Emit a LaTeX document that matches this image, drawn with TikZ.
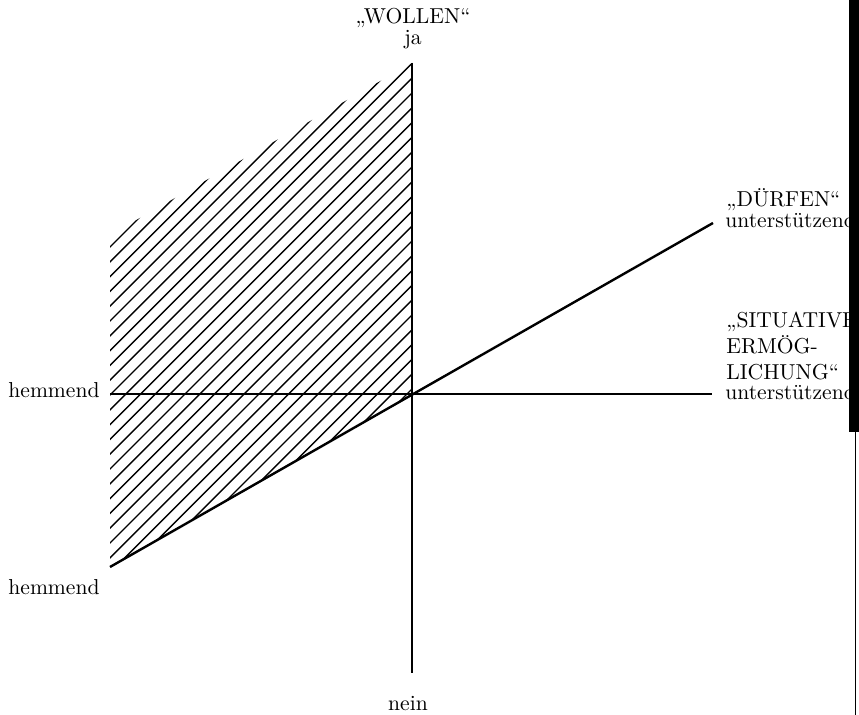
\documentclass[tikz,border=0pt]{standalone}
\usetikzlibrary{positioning}
\tikzset{
  axis/.style={line width=1.2pt}, % the three axes
  hatchline/.style={line width=0.7pt}, % hatching of the ja/hemmend plane
  axlabel/.style={font=\fontsize{10.8}{13}\selectfont, inner sep=0pt},
}
\begin{document}
\begin{tikzpicture}[x=0.5pt, y=-0.5pt]
  \useasboundingbox (0,0) rectangle (859,715);

  % end points of the axes
  \coordinate (O) at (412,395);
  \coordinate (wollenJa) at (412,63);
  \coordinate (wollenNein) at (412,673);
  \coordinate (durfenPlus) at (713,223);
  \coordinate (durfenMinus) at (110,567);
  \coordinate (sitPlus) at (712,394);
  \coordinate (sitMinus) at (110,394);
  \coordinate (planeCorner) at (110,235);

  % hatched plane
  \begin{scope}
    \clip (planeCorner) -- (wollenJa) -- (O) -- (durfenMinus) -- cycle;
    \foreach \c in {0,...,30}
      \draw[hatchline] (100,257+14.8*\c) -- ++(330,-330);
  \end{scope}

  % axes
  \draw[axis] (wollenJa) -- (wollenNein);
  \draw[axis] (sitMinus) -- (sitPlus);
  \draw[axis] (durfenMinus) -- (durfenPlus);

  % labels
  \node[axlabel, anchor=base] (ja) at (413,45) {ja};
  \node[axlabel, anchor=base] (wollen) at (413,24) {„WOLLEN“};
  \node[axlabel, anchor=base] (nein) at (408,711) {nein};
  \node[axlabel, anchor=base east] (hemmSit) at (100,398) {hemmend};
  \node[axlabel, anchor=base east] (hemmDurfen) at (100,595) {hemmend};
  \node[axlabel, anchor=base west] (durfen) at (726,207) {„DÜRFEN“};
  \node[axlabel, anchor=base west] (unterDurfen) at (725,228) {unterstützend};
  \node[axlabel, anchor=base west, align=left] (sit) at (726,380)
    {„SITUATIVE\\ERMÖG-\\LICHUNG“};
  \node[axlabel, anchor=base west] (unterSit) at (725,400) {unterstützend};

  % dark edge of the scanned page
  \fill (849,0) rectangle (859,432);
  \draw[line width=0.6pt] (855.5,432) -- (855.5,715);
\end{tikzpicture}
\end{document}
